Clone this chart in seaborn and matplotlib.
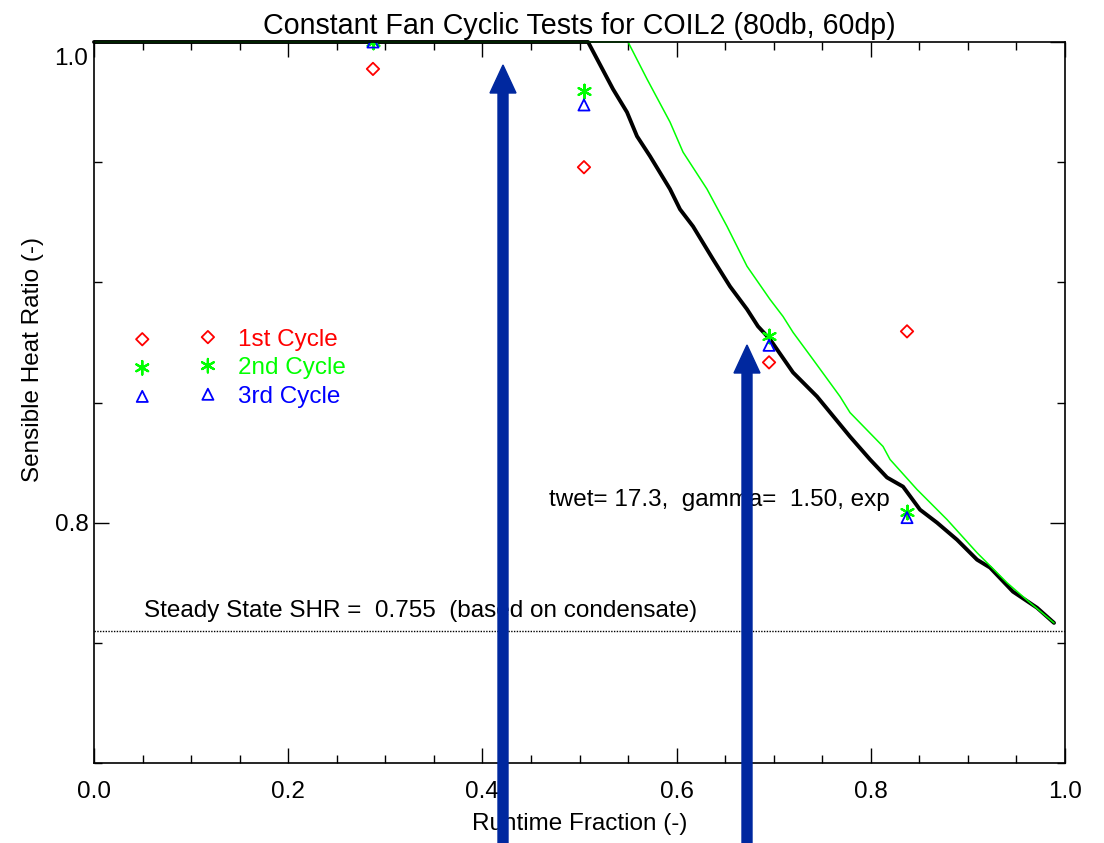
import numpy as np
import pandas as pd
import matplotlib
matplotlib.use("Agg")
import matplotlib.pyplot as plt
import matplotlib.transforms as mtransforms
from matplotlib.patches import FancyArrow
import seaborn as sns

# ---------------- data ----------------
title = "Constant Fan Cyclic Tests for COIL2 (80db, 60dp)"
xlabel = "Runtime Fraction (-)"
ylabel = "Sensible Heat Ratio (-)"

# model curve (black, twet=17.3, gamma=1.50)
model_x = [0.0, 0.5088, 0.5345, 0.5489, 0.5592, 0.5726, 0.5932, 0.6035, 0.6169, 0.6375,
           0.6550, 0.6725, 0.6838, 0.6962, 0.7199, 0.7446, 0.7786, 0.7992, 0.8167,
           0.8332, 0.8507, 0.8682, 0.8888, 0.9094, 0.9228, 0.9464, 0.9712, 0.9887]
model_y = [1.0, 1.0, 0.9804, 0.9708, 0.9608, 0.9525, 0.9388, 0.9304, 0.9233, 0.9096,
           0.8983, 0.8888, 0.8817, 0.8763, 0.8625, 0.8525, 0.8358, 0.8263, 0.8188,
           0.8150, 0.8054, 0.8000, 0.7929, 0.7846, 0.7813, 0.7713, 0.7646, 0.7583]

# second curve (green)
green_x = [0.0, 0.5500, 0.5695, 0.5932, 0.6066, 0.6313, 0.6519, 0.6725, 0.6962, 0.7096,
           0.7199, 0.7405, 0.7683, 0.7786, 0.8126, 0.8198, 0.8476, 0.8785, 0.9094,
           0.9403, 0.9640, 0.9887]
green_y = [1.0, 1.0, 0.9846, 0.9667, 0.9542, 0.9388, 0.9233, 0.9067, 0.8929, 0.8858,
           0.8792, 0.8679, 0.8525, 0.8458, 0.8317, 0.8263, 0.8138, 0.8013, 0.7875,
           0.7750, 0.7667, 0.7583]

# test points
runtime = [0.2873, 0.5046, 0.6952, 0.8373]
cycle1 = [0.9888, 0.9479, 0.8667, 0.8796]
cycle2 = [1.0, 0.9796, 0.8775, 0.8046]
cycle3 = [1.0, 0.9738, 0.8738, 0.8021]
cycle_labels = ["1st Cycle", "2nd Cycle", "3rd Cycle"]

steady_shr = 0.755
steady_text = "Steady State SHR =  0.755  (based on condensate)"
model_text = "twet= 17.3,  gamma=  1.50, exp"

# ---------------- style ----------------
sns.set_theme(style="white")
plt.rcParams["font.family"] = ["Liberation Sans", "DejaVu Sans"]
plt.rcParams["text.color"] = "black"
plt.rcParams["axes.labelcolor"] = "black"
plt.rcParams["xtick.color"] = "black"
plt.rcParams["ytick.color"] = "black"

fig = plt.figure(figsize=(11.04, 8.43), dpi=100)
ax = fig.add_axes([94 / 1104, 1 - 763 / 843, 971 / 1104, 721 / 843])

FS = 17.5
RED, GREEN, BLUE = "#ff0000", "#00ff00", "#0000ff"

df_model = pd.DataFrame({"x": model_x, "y": model_y})
df_green = pd.DataFrame({"x": green_x, "y": green_y})
sns.lineplot(data=df_model, x="x", y="y", sort=False, estimator=None, color="black",
             linewidth=2.8, ax=ax, clip_on=False, zorder=3)
sns.lineplot(data=df_green, x="x", y="y", sort=False, estimator=None, color=GREEN,
             linewidth=1.1, ax=ax, clip_on=False, zorder=4)

ax.axhline(steady_shr, color="black", linewidth=1.0, linestyle=(0, (1, 1)), zorder=2)

df_pts = pd.DataFrame({"x": runtime, "c1": cycle1, "c2": cycle2, "c3": cycle3})
sns.scatterplot(data=df_pts, x="x", y="c1", marker="D", s=40, facecolors="none",
                edgecolor=RED, linewidth=1.3, ax=ax, label=cycle_labels[0], zorder=5)
sns.scatterplot(data=df_pts, x="x", y="c2", marker=(6, 2, 0), s=95,
                color=GREEN, linewidth=1.6, ax=ax, label=cycle_labels[1], zorder=5)
sns.scatterplot(data=df_pts, x="x", y="c3", marker="^", s=64, facecolors="none",
                edgecolor=BLUE, linewidth=1.3, ax=ax, label=cycle_labels[2], zorder=5)

ax.set_xlim(0.0, 1.0)
ax.set_ylim(0.7, 1.0)
ax.set_xticks(np.arange(0.0, 1.01, 0.2))
ax.set_xticks(np.arange(0.0, 1.001, 0.05), minor=True)
ax.set_yticks([0.8, 1.0])
ax.set_yticks(np.arange(0.7, 1.001, 0.05), minor=True)
ax.set_xticklabels(["0.0", "0.2", "0.4", "0.6", "0.8", "1.0"])
ax.set_yticklabels(["0.8", "1.0"])
ax.tick_params(which="both", direction="in", top=True, right=True, bottom=True, left=True,
               color="black", width=1.0, labelsize=FS, labelcolor="black")
ax.tick_params(which="major", length=11)
ax.tick_params(which="minor", length=5.5)
ax.tick_params(axis="x", which="major", pad=13)
ax.tick_params(axis="y", which="major", pad=4)

for sp in ax.spines.values():
    sp.set_linestyle((0, (1, 1)))
    sp.set_linewidth(1.2)
    sp.set_color("black")
    sp.set_zorder(6)

ax.set_title(title, fontsize=20.6, pad=6, color="black")
ax.set_xlabel(xlabel, fontsize=FS)
ax.set_ylabel(ylabel, fontsize=FS)
ax.xaxis.set_label_coords(0.5, -0.07)
ax.yaxis.set_label_coords(-0.052, 0.56)

ax.text(0.0514, 0.7633, steady_text, fontsize=FS, va="center", ha="left")
ax.text(0.469, 0.8095, model_text, fontsize=FS, va="center", ha="left")

leg = ax.legend(loc="upper left", bbox_to_anchor=(0.0422, 0.6025), frameon=False,
                scatterpoints=2, handlelength=3.3, handletextpad=0.93,
                labelspacing=0.27, borderpad=0, borderaxespad=0, fontsize=FS,
                labelcolor=[RED, GREEN, BLUE])

# shift the top y label down like the reference
fig.canvas.draw()
for t in ax.yaxis.get_major_ticks():
    if abs(t.get_loc() - 1.0) < 1e-9:
        lab = t.label1
        lab.set_transform(lab.get_transform() +
                          mtransforms.ScaledTranslation(0, -0.14, fig.dpi_scale_trans))

# blue arrows overlaid on the figure
ARROW = "#00289f"
for ax_x, tip_y in [(5.03, (843 - 65) / 100), (7.47, (843 - 345) / 100)]:
    arr = FancyArrow(ax_x, 0.0, 0.0, tip_y, width=0.10, head_width=0.26,
                     head_length=0.28, length_includes_head=True,
                     color=ARROW, transform=fig.dpi_scale_trans, zorder=10)
    fig.add_artist(arr)

fig.savefig("out.png", dpi=100)
